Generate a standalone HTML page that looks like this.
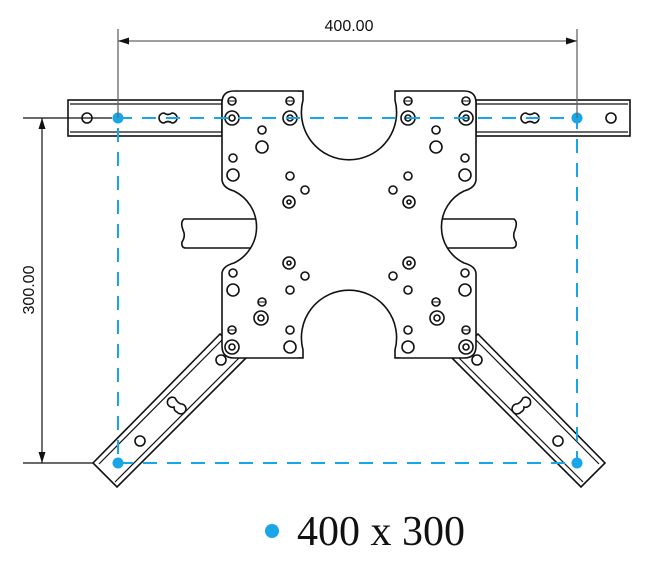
<!DOCTYPE html>
<html><head><meta charset="utf-8"><style>
html,body{margin:0;padding:0;background:#fff;}
svg{display:block;}
</style></head><body>
<svg width="660" height="561" viewBox="0 0 660 561" xmlns="http://www.w3.org/2000/svg">
<defs>
<g id="half" fill="none" stroke="#111" stroke-width="1.6">
  <rect x="68" y="100" width="154" height="36" fill="#fff"/>
  <line x1="70" y1="104" x2="222" y2="104" stroke-width="1.3"/>
  <line x1="70" y1="132" x2="222" y2="132" stroke-width="1.3"/>
  <circle cx="87" cy="118" r="5"/>
  <path d="M164,113 a5,5 0 1 0 0,10 q4,-3 8,0 a5,5 0 1 0 0,-10 q-4,3 -8,0z"/>
  <path d="M260,219 L184,219 Q180,222 183,230 Q186,236 182,242 Q181,248 186,248 L260,248" fill="#fff"/>
  <path d="M220,334 L93,463 L117,487 L247,357 Z" fill="#fff"/>
  <path d="M223,339 L99,464 M241,356 L115,482" stroke-width="1.2"/>
  <circle cx="140" cy="441" r="5"/>
  <path d="M175,398 a5,5 0 1 0 -1,9 q0,4 3,5 a5,5 0 1 0 5,-8 q-4,0 -7,-6z"/>
  <circle cx="221" cy="360" r="5"/>
  <path d="M349,91 L234,91 Q222,91 222,103 L222,180 Q223,188 234,191 A40,40 0 0 1 234,263 Q223,266 222,273 L222,346 Q222,358 234,358 L349,358" fill="#fff"/>
  <circle cx="232" cy="101" r="4"/><line x1="228" y1="101" x2="236" y2="101" stroke-width="1"/>
  <circle cx="232" cy="118" r="7"/><circle cx="232" cy="118" r="3"/>
  <circle cx="290" cy="101" r="4"/><line x1="286" y1="101" x2="294" y2="101" stroke-width="1"/>
  <circle cx="290" cy="118" r="7"/><circle cx="290" cy="118" r="3"/>
  <circle cx="262" cy="130" r="4"/><circle cx="262" cy="147" r="6"/>
  <circle cx="233" cy="158" r="4"/><circle cx="233" cy="175" r="6"/>
  <circle cx="290" cy="176" r="4"/><circle cx="305" cy="190" r="4"/>
  <circle cx="289" cy="202" r="6"/><circle cx="289" cy="202" r="2"/>
  <circle cx="289" cy="263" r="6"/><circle cx="289" cy="263" r="2"/>
  <circle cx="305" cy="276" r="4"/><circle cx="290" cy="290" r="4"/>
  <circle cx="233" cy="273" r="4"/><circle cx="233" cy="290" r="6"/>
  <circle cx="262" cy="302" r="4"/><line x1="258" y1="302" x2="266" y2="302" stroke-width="1"/>
  <circle cx="261" cy="318" r="7"/><circle cx="261" cy="318" r="3"/>
  <circle cx="232" cy="330" r="4"/><line x1="228" y1="330" x2="236" y2="330" stroke-width="1"/>
  <circle cx="232" cy="347" r="7"/><circle cx="232" cy="347" r="3"/>
  <circle cx="290" cy="330" r="4"/><circle cx="290" cy="347" r="6"/>
</g>
</defs>
<use href="#half"/>
<use href="#half" transform="translate(698,0) scale(-1,1)"/>
<path d="M298,80 L400,80 L400,91 L395,91 L395,100 A47.6,47.6 0 1 1 303,100 L303,91 L298,91Z" fill="#fff"/>
<path d="M298,370 L400,370 L400,358 L395,358 L395,350 A47.6,47.6 0 1 0 303,350 L303,358 L298,358Z" fill="#fff"/>
<g fill="none" stroke="#111" stroke-width="1.6">
  <path d="M298,91 L303,91 L303,100 A47.6,47.6 0 1 0 395,100 L395,91 L400,91"/>
  <path d="M298,358 L303,358 L303,350 A47.6,47.6 0 1 1 395,350 L395,358 L400,358"/>
</g>
<rect x="118" y="118" width="459" height="345" fill="none" stroke="#18a6e6" stroke-width="2" stroke-dasharray="14,10"/>
<g fill="#18a6e6">
  <circle cx="118" cy="118" r="5.5"/><circle cx="577" cy="118" r="5.5"/>
  <circle cx="118" cy="463" r="5.5"/><circle cx="577" cy="463" r="5.5"/>
</g>
<g stroke="#666" stroke-width="1.3" fill="none">
  <line x1="118" y1="29" x2="118" y2="118"/>
  <line x1="577" y1="29" x2="577" y2="118"/>
  <line x1="118" y1="41" x2="577" y2="41"/>
</g>
<g stroke="#111" stroke-width="1.2">
  <line x1="23" y1="118" x2="112" y2="118"/>
  <line x1="23" y1="463" x2="93" y2="463"/>
  <line x1="42" y1="118" x2="42" y2="463"/>
</g>
<g fill="#111">
  <path d="M118,41 l11,-3.5 v7z"/><path d="M577,41 l-11,-3.5 v7z"/>
  <path d="M42,118 l-3.5,11 h7z"/><path d="M42,463 l-3.5,-11 h7z"/>
</g>
<text x="349" y="31" text-anchor="middle" font-family="Liberation Sans, sans-serif" font-size="16" fill="#111">400.00</text>
<text transform="translate(34,290) rotate(-90)" text-anchor="middle" font-family="Liberation Sans, sans-serif" font-size="16" fill="#111">300.00</text>
<circle cx="272" cy="531" r="7" fill="#18a6e6"/>
<text x="297" y="545" font-family="Liberation Serif, serif" font-size="42" fill="#111">400 x 300</text>
</svg>
</body></html>
